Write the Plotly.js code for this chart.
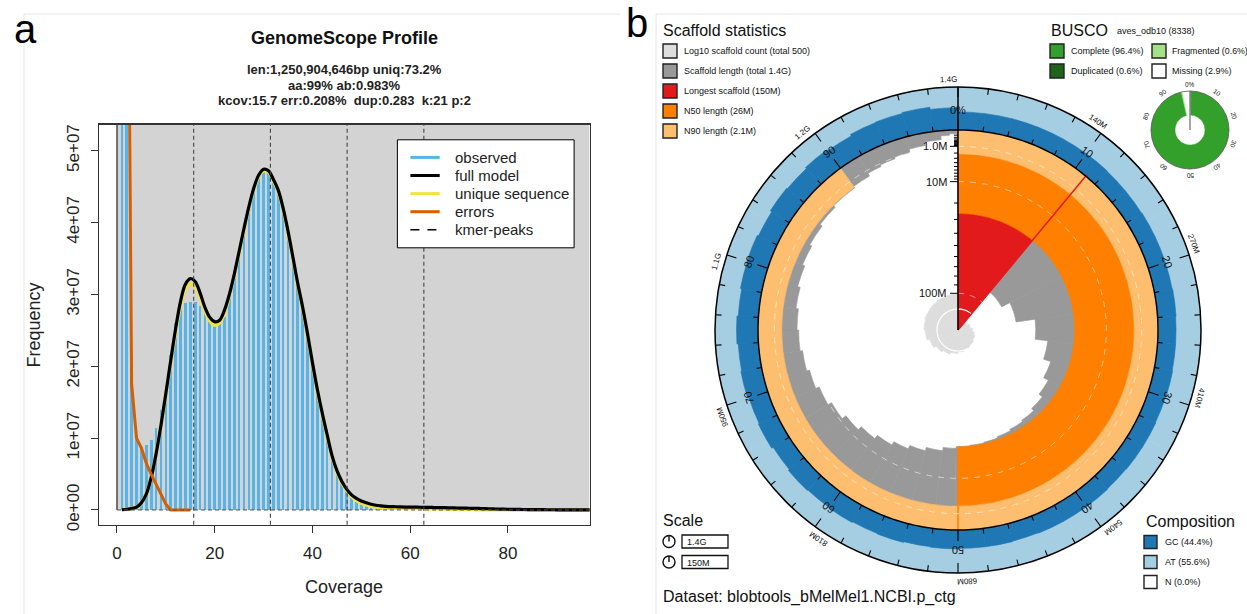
<!DOCTYPE html>
<html><head><meta charset="utf-8">
<script src="https://cdn.plot.ly/plotly-3.0.1.min.js"></script>
<style>html,body{margin:0;padding:0;background:#fff}#chart{width:1247px;height:614px}</style>
</head><body><div id="chart"></div>
<script>
const W = 1247, H = 614;
const FONT = 'Liberation Sans, Arial, sans-serif';

// ================= Panel a: GenomeScope profile =================
const coverage = Array.from({length: 97}, (_, i) => i + 1);
// values in units of 1e7
const observedE7 = [30,12,2.0,1.05,0.88,0.9,0.97,1.14,1.39,1.72,
  2.15,2.6,2.8,2.88,2.9,2.9,2.84,2.74,2.64,2.6,
  2.6,2.69,2.95,3.25,3.58,3.9,4.18,4.44,4.62,4.72,
  4.7,4.58,4.42,4.17,3.86,3.5,3.13,2.8,2.43,2.03,
  1.66,1.33,1.03,0.75,0.54,0.39,0.28,0.2,0.15,0.115,
  0.09,0.075,0.062,0.054,0.048,0.045,0.043,0.041,0.04,0.039,
  0.038,0.037,0.036,0.035,0.034,0.032,0.031,0.03,0.028,0.026,
  0.025,0.023,0.022,0.02,0.018,0.016,0.015,0.013,0.012,0.011,
  0.01,0.009,0.008,0.007,0.0065,0.006,0.0055,0.005,0.0045,0.004,
  0.0038,0.0035,0.0033,0.003,0.003,0.0028,0.0027];
const fullModelE7 = [0.005,0.01,0.02,0.04,0.1,0.22,0.45,0.78,1.18,1.62,
  2.08,2.52,2.9,3.14,3.22,3.18,3.02,2.82,2.68,2.62,
  2.64,2.78,3.0,3.28,3.6,3.92,4.22,4.48,4.66,4.74,
  4.72,4.6,4.45,4.2,3.88,3.52,3.15,2.82,2.45,2.05,
  1.68,1.35,1.05,0.76,0.55,0.4,0.29,0.21,0.16,0.125,
  0.1,0.08,0.066,0.057,0.051,0.047,0.045,0.043,0.041,0.04,
  0.039,0.038,0.037,0.036,0.034,0.033,0.032,0.03,0.028,0.027,
  0.025,0.024,0.023,0.021,0.019,0.017,0.015,0.013,0.011,0.01,
  0.009,0.008,0.007,0.006,0.005,0.0045,0.004,0.0035,0.003,0.0028,
  0.0025,0.0022,0.002,0.0018,0.0016,0.0015,0.0014];
const uniqueSeqE7 = [0.005,0.01,0.02,0.04,0.1,0.22,0.45,0.78,1.17,1.6,
  2.05,2.47,2.84,3.07,3.15,3.11,2.96,2.77,2.63,2.57,
  2.6,2.74,2.97,3.26,3.58,3.9,4.2,4.46,4.64,4.72,
  4.7,4.58,4.43,4.18,3.86,3.5,3.13,2.8,2.43,2.03,
  1.66,1.33,1.03,0.74,0.53,0.38,0.27,0.19,0.13,0.095,
  0.07,0.052,0.042,0.035,0.03,0.027,0.025,0.023,0.022,0.021,
  0.02,0.019,0.018,0.017,0.016,0.014,0.013,0.011,0.01,0.008,
  0.007,0.006,0.005,0.004,0.003,0.0025,0.002,0.0015,0.0015,0.0015,
  0.0012,0.0012,0.0012,0.001,0.001,0.001,0.001,0.001,0.001,0.001,
  0.001,0.001,0.001,0.001,0.001,0.001,0.001];
const errorsCoverage = [1,2,3,4,5,6,7,8,9,10,11,12,13,14,15];
const errorsE7 = [40,10.7,1.75,1.0,0.86,0.65,0.5,0.36,0.22,0.08,0,0,0,0,0];
const kmerPeaks = [15.7, 31.4, 47.1, 62.8];
const freqTicks = [0, 1e7, 2e7, 3e7, 4e7, 5e7];
const freqTickText = ['0e+00','1e+07','2e+07','3e+07','4e+07','5e+07'];
const covTicks = [0, 20, 40, 60, 80];
const gsTitle = 'GenomeScope Profile';
const gsStats = ['len:1,250,904,646bp uniq:73.2%', 'aa:99% ab:0.983%', 'kcov:15.7 err:0.208%&nbsp;&nbsp;dup:0.283&nbsp;&nbsp;k:21 p:2'];
const gsLegendNames = ['observed', 'full model', 'unique sequence', 'errors', 'kmer-peaks'];
const gsLegendColors = ['#56B4E9', '#000000', '#F0E442', '#D55E00', '#000000'];

const E7 = v => v * 1e7;
const xRange = [-3.72, 96.72];
const yRange = [-0.2062e7, 5.362e7];
const axDomX = [98.8 / W, 589.6 / W];
const axDomY = [1 - 524.8 / H, 1 - 124.6 / H];

// ================= Panel b: snail plot =================
const totalM = 1360;          // assembly span (1.4G)
const longestM = 150, n50M = 26, n90M = 2.1;
const scaffoldTopM = [150, 85, 75, 56, 45, 39, 35, 32, 30, 29, 28, 27, 26.5, 26];
const tailStartPct = [50.26,52.0,54.2,56.3,58.3,60.4,62.5,64.6,66.7,68.8,70.8,72.9,75,77.1,79.2,81.3,83.3,85.4,87.5,90,91.7,93,94.4,95.8,97.2,98.6,99.3];
const tailLenM = [25,23,21,19,17,15,13,11,9.4,8,7,6.2,5.7,5,4.3,3.7,3.15,2.6,2.2,1.9,1.4,1.15,0.96,0.6,0.3,0.1,0.05];
// log10 scaffold count spiral
const countPct = [0,5,11,17,23,27,30,35,40,45,50,55,60,65,70,75,80,85,90,95,100];
const log10Count = [0,0,0.3,0.48,0.6,0.7,0.78,0.85,0.92,0.98,1.05,1.12,1.2,1.3,1.42,1.55,1.62,1.66,1.68,1.7,1.72];
// GC composition (fraction of the ring) in 2% bins
const gcBinPct = Array.from({length: 50}, (_, i) => i * 2);
const gcFrac = [0.42,0.42,0.42,0.42,0.42,0.42,0.41,0.41,0.42,0.42,0.42,0.43,0.42,0.42,0.43,0.42,0.43,0.43,0.42,0.43,0.43,0.43,0.42,0.43,0.43,
  0.44,0.43,0.45,0.44,0.46,0.45,0.47,0.44,0.48,0.46,0.49,0.47,0.5,0.47,0.5,0.51,0.48,0.52,0.5,0.53,0.5,0.54,0.55,0.57,0.52];
const pctTickLabels = ['0%','10','20','30','40','50','60','70','80','90'];
const lenTickLabels = ['1.4G','140M','270M','410M','540M','680M','810M','950M','1.1G','1.2G'];
const radialTickM = [1, 10, 100];
const radialTickText = ['1.0M', '10M', '100M'];
const radialMinorM = [0.1,0.2,0.3,0.4,0.5,0.6,0.7,0.8,0.9,2,3,4,5,6,7,8,9,20,30,40,50,60,70,80,90];
// BUSCO
const buscoPct = [0.6, 95.8, 0.6, 2.9];   // duplicated, single complete, fragmented, missing
const buscoColors = ['#20641c', '#33a02c', '#a3e28b', '#ffffff'];
const buscoTickLabels = ['0%','10','20','30','40','50','60','70','80','90'];

// geometry (pixels) of the snail plot
const CX = 958, CY = 330, R_IN = 200, R_OUT = 243;
const rOfLen = L => R_IN * (1 - Math.sqrt(L / longestM));
const SPIRAL_K = 21;
const BCX = 1190, BCY = 130, BR = 39, BHOLE = 15;

const px = x => x / W, py = y => 1 - y / H;
function polarPaper(cx, cy, r, deg) {
  const t = deg * Math.PI / 180;
  return {x: px(cx + r * Math.sin(t)), y: py(cy - r * Math.cos(t))};
}

const traces = [];
// ---- panel a traces ----
traces.push({type:'bar', x: coverage, y: observedE7.map(E7), width: 0.55,
  marker:{color:'#56B4E9', line:{width:0}}, hoverinfo:'skip', xaxis:'x', yaxis:'y'});
traces.push({type:'scatter', mode:'lines', x: coverage, y: uniqueSeqE7.map(E7), line:{color:'#F0E442', width:3.5, shape:'spline'},
  name:'unique sequence', xaxis:'x', yaxis:'y', hoverinfo:'skip'});
traces.push({type:'scatter', mode:'lines', x: coverage, y: fullModelE7.map(E7), line:{color:'#000', width:3.2, shape:'spline'},
  name:'full model', xaxis:'x', yaxis:'y', hoverinfo:'skip'});
traces.push({type:'scatter', mode:'lines', x: errorsCoverage, y: errorsE7.map(E7), line:{color:'#D55E00', width:3},
  name:'errors', xaxis:'x', yaxis:'y', hoverinfo:'skip'});

// ---- panel b traces ----
function bp(theta, width, base, r, color, subplot) {
  return {type:'barpolar', theta, width, base, r, subplot: subplot || 'polar',
    marker:{color, line:{color, width:0.6}}, hoverinfo:'skip'};
}
function arcBins(p0, p1, maxDeg) {
  const a0 = p0 * 3.6, a1 = p1 * 3.6, n = Math.max(1, Math.ceil((a1 - a0) / maxDeg));
  const th = [], wd = [];
  for (let i = 0; i < n; i++) { const s = a0 + (a1 - a0) * i / n, e = a0 + (a1 - a0) * (i + 1) / n; th.push((s + e) / 2); wd.push(e - s); }
  return {th, wd};
}
// composition ring (AT background, GC)
{
  const a = arcBins(0, 100, 30);
  traces.push(bp(a.th, a.wd, a.th.map(() => R_IN), a.th.map(() => R_OUT - R_IN), '#a6cee3'));
  const th = gcBinPct.map(p => (p + 1) * 3.6), wd = gcBinPct.map(() => 7.2);
  traces.push(bp(th, wd, th.map(() => R_IN), gcFrac.map(f => f * (R_OUT - R_IN)), '#1f78b4'));
}
// log10 count spiral
{
  const th = [], wd = [], r = [];
  for (let i = 0; i < countPct.length - 1; i++) {
    th.push((countPct[i] + countPct[i + 1]) / 2 * 3.6); wd.push((countPct[i + 1] - countPct[i]) * 3.6);
    r.push(SPIRAL_K * log10Count[i + 1]);
  }
  traces.push(bp(th, wd, th.map(() => 0), r, '#dddddd'));
  const cth = Array.from({length: 181}, (_, i) => i * 2);
  traces.push({type:'scatterpolar', mode:'lines', subplot:'polar', theta: cth, r: cth.map(() => SPIRAL_K * 1),
    line:{color:'#fff', width:1.2}, hoverinfo:'skip'});
}
// scaffold length distribution
{
  const bins = []; let cum = 0;
  scaffoldTopM.forEach(L => { const p0 = cum / totalM * 100; cum += L; bins.push({p0, p1: cum / totalM * 100, L}); });
  tailStartPct.forEach((p, i) => bins.push({p0: p, p1: i < tailStartPct.length - 1 ? tailStartPct[i + 1] : 100, L: tailLenM[i]}));
  const th = bins.map(b => (b.p0 + b.p1) / 2 * 3.6), wd = bins.map(b => (b.p1 - b.p0) * 3.6);
  const base = bins.map(b => rOfLen(b.L));
  traces.push(bp(th, wd, base, base.map(v => R_IN - v), '#999999'));
}
// longest, N50, N90
{
  const lp = longestM / totalM * 100;
  const a = arcBins(0, lp, 60);
  traces.push(bp(a.th, a.wd, a.th.map(() => 0), a.th.map(() => R_IN), '#e31a1c'));
  const b = arcBins(0, 50, 60);
  traces.push(bp(b.th, b.wd, b.th.map(() => rOfLen(n50M)), b.th.map(() => R_IN - rOfLen(n50M)), '#ff7f00'));
  const c = arcBins(0, 90, 60);
  traces.push(bp(c.th, c.wd, c.th.map(() => rOfLen(n90M)), c.th.map(() => R_IN - rOfLen(n90M)), '#fdbf6f'));
  traces.push({type:'scatterpolar', mode:'lines', subplot:'polar', theta:[lp * 3.6, lp * 3.6], r:[0, R_IN + 2],
    line:{color:'#e31a1c', width:1.5}, hoverinfo:'skip'});
  traces.push({type:'scatterpolar', mode:'lines', subplot:'polar', theta:[180, 180], r:[rOfLen(n50M), R_IN],
    line:{color:'#ff7f00', width:1.5}, hoverinfo:'skip'});
}
// dashed grid circles for radial ticks
radialTickM.forEach(L => {
  const cth = Array.from({length: 361}, (_, i) => i);
  traces.push({type:'scatterpolar', mode:'lines', subplot:'polar', theta: cth, r: cth.map(() => rOfLen(L)),
    line:{color:'rgba(255,255,255,0.55)', width:1, dash:'6px,6px'}, hoverinfo:'skip'});
});
// inner black circle
{
  const cth = Array.from({length: 361}, (_, i) => i);
  traces.push({type:'scatterpolar', mode:'lines', subplot:'polar', theta: cth, r: cth.map(() => R_IN),
    line:{color:'#000', width:1.5}, hoverinfo:'skip'});
}
// ticks: percent (inner circle, outward) and length (outer circle, inward)
{
  const rr = [], tt = [];
  for (let p = 0; p < 100; p += 2) {
    const major = p % 10 === 0;
    rr.push(R_IN, R_IN + (major ? 11 : 5), null); tt.push(p * 3.6, p * 3.6, null);
    rr.push(R_OUT + (major ? 4 : 0), R_OUT - (major ? 10 : 6), null); tt.push(p * 3.6, p * 3.6, null);
  }
  traces.push({type:'scatterpolar', mode:'lines', subplot:'polar', theta: tt, r: rr,
    line:{color:'#000', width:1.1}, hoverinfo:'skip', connectgaps:false});
  traces.push({type:'scatterpolar', mode:'lines', subplot:'polar', theta:[0, 0], r:[0, R_OUT],
    line:{color:'#000', width:1.5}, hoverinfo:'skip'});
  const r2 = [], t2 = [];
  const addTick = (L, len) => { const r = rOfLen(L); r2.push(r, Math.hypot(r, len), null); t2.push(0, -Math.atan2(len, r) * 180 / Math.PI, null); };
  radialTickM.forEach(L => addTick(L, 8));
  radialMinorM.forEach(L => addTick(L, 4));
  traces.push({type:'scatterpolar', mode:'lines', subplot:'polar', theta: t2, r: r2,
    line:{color:'#000', width:1}, hoverinfo:'skip', connectgaps:false});
}
// BUSCO donut
{
  let cum = 0; const th = [], wd = [];
  buscoPct.forEach(p => { th.push((cum + p / 2) * 3.6); wd.push(p * 3.6); cum += p; });
  traces.push({type:'barpolar', subplot:'polar2', theta: th, width: wd, base: th.map(() => BHOLE), r: th.map(() => BR - BHOLE),
    marker:{color: buscoColors, line:{color: buscoColors, width:0.5}}, hoverinfo:'skip'});
  const rr = [], tt = [];
  for (let p = 0; p < 100; p += 10) { rr.push(BR, BR + 2.5, null); tt.push(p * 3.6, p * 3.6, null); }
  traces.push({type:'scatterpolar', mode:'lines', subplot:'polar2', theta: tt, r: rr, line:{color:'#555', width:0.8},
    hoverinfo:'skip', connectgaps:false});
  traces.push({type:'scatterpolar', mode:'lines', subplot:'polar2', theta:[0, 0], r:[0, BR], line:{color:'#888', width:1.5},
    hoverinfo:'skip'});
}

// ---------------- layout: shapes & annotations ----------------
const shapes = [];
const annotations = [];
function label(text, x, y, size, anchor, extra) {
  annotations.push(Object.assign({text, xref:'paper', yref:'paper', x:px(x), y:py(y), xanchor:anchor || 'left', yanchor:'middle', showarrow:false,
    font:{family:FONT, size: size || 10, color:'#111'}}, extra || {}));
}
// panel frames
shapes.push({type:'line', xref:'paper', yref:'paper', x0:px(24), x1:px(620), y0:py(14), y1:py(14), line:{color:'#e6e6e6', width:1}});
shapes.push({type:'line', xref:'paper', yref:'paper', x0:px(24), x1:px(24), y0:py(14), y1:0, line:{color:'#e6e6e6', width:1}});
shapes.push({type:'line', xref:'paper', yref:'paper', x0:px(656), x1:1, y0:py(14), y1:py(14), line:{color:'#e6e6e6', width:1}});
shapes.push({type:'line', xref:'paper', yref:'paper', x0:px(656), x1:px(656), y0:py(14), y1:0, line:{color:'#e6e6e6', width:1}});
// panel a background + peaks
shapes.push({type:'rect', xref:'x', yref:'y', x0:0, x1:xRange[1], y0:0, y1:yRange[1], fillcolor:'#d3d3d3', line:{width:0}, layer:'below'});
shapes.push({type:'line', xref:'x', yref:'y', x0:0, x1:0, y0:0, y1:yRange[1], line:{color:'#222', width:1.2}, layer:'below'});
shapes.push({type:'line', xref:'x', yref:'y', x0:0, x1:xRange[1], y0:0, y1:0, line:{color:'#555', width:1, dash:'4px,3px'}});
kmerPeaks.forEach(k => shapes.push({type:'line', xref:'x', yref:'y domain', x0:k, x1:k, y0:0, y1:1, line:{color:'#444', width:1.1, dash:'4px,3px'}}));
// panel a legend (box, samples, names)
shapes.push({type:'rect', xref:'paper', yref:'paper', x0:px(397.4), x1:px(574.1), y0:py(247.8), y1:py(139.8), fillcolor:'#fff', line:{color:'#000', width:1}});
gsLegendNames.forEach((n, i) => {
  const y = 157.4 + 18.1 * i;
  const dashed = n === 'kmer-peaks';
  shapes.push({type:'line', xref:'paper', yref:'paper', x0:px(410.4), x1:px(439.7), y0:py(y), y1:py(y),
    line:{color:gsLegendColors[i], width: dashed ? 1.6 : 3, dash: dashed ? '9px,8px' : 'solid'}});
  label(n, 452.7, y, 15, 'left', {font:{family:FONT, size:15, color:'#222'}});
});

// panel labels
label('a', 25, 29, 40, 'center', {font:{family:FONT, size:40, color:'#000'}});
label('b', 637, 23, 40, 'center', {font:{family:FONT, size:40, color:'#000'}});
// GenomeScope titles
label('<b>' + gsTitle + '</b>', 344, 37.5, 18, 'center', {font:{family:FONT, size:18, color:'#111'}});
gsStats.forEach((t, i) => label('<b>' + t + '</b>', 344, 69.7 + 15.5 * i, 13, 'center', {font:{family:FONT, size:13, color:'#222'}}));
label('Coverage', 344, 587, 18, 'center', {font:{family:FONT, size:18, color:'#222'}});
label('Frequency', 33.6, 325, 18, 'center', {textangle:-90, font:{family:FONT, size:18, color:'#222'}});

// Snail legends
function swatch(x, y, color, size) {
  const s = size || 14;
  shapes.push({type:'rect', xref:'paper', yref:'paper', x0:px(x), x1:px(x + s), y0:py(y + s / 2), y1:py(y - s / 2), fillcolor:color, line:{color:'#222', width:1.4}});
}
label('Scaffold statistics', 661, 30, 16);
const scafLegend = [['Log10 scaffold count (total 500)', '#dddddd'], ['Scaffold length (total 1.4G)', '#999999'],
  ['Longest scaffold (150M)', '#e31a1c'], ['N50 length (26M)', '#ff7f00'], ['N90 length (2.1M)', '#fdbf6f']];
scafLegend.forEach((d, i) => { swatch(663, 51 + 20 * i, d[1]); label(d[0], 682, 51 + 20 * i, 9); });
label('BUSCO', 1049, 30, 16);
label('aves_odb10 (8338)', 1115, 31, 9);
swatch(1050, 51, '#33a02c'); label('Complete (96.4%)', 1069, 51, 9);
swatch(1152, 51, '#a3e28b'); label('Fragmented (0.6%)', 1170, 51, 8.8);
swatch(1050, 71, '#20641c'); label('Duplicated (0.6%)', 1069, 71, 9);
swatch(1152, 71, '#ffffff'); label('Missing (2.9%)', 1170, 71, 9);
label('Composition', 1144, 521, 16);
[['GC (44.4%)', '#1f78b4'], ['AT (55.6%)', '#a6cee3'], ['N (0.0%)', '#ffffff']].forEach((d, i) => {
  swatch(1144, 542 + 20 * i, d[1], 13); label(d[0], 1163, 542 + 20 * i, 9);
});
label('Scale', 661, 520, 16);
['1.4G', '150M'].forEach((t, i) => {
  const y = 541.5 + 20.5 * i;
  shapes.push({type:'circle', xref:'paper', yref:'paper', x0:px(663), x1:px(675), y0:py(y + 6), y1:py(y - 6), line:{color:'#111', width:1.4}});
  shapes.push({type:'line', xref:'paper', yref:'paper', x0:px(669), x1:px(669), y0:py(y), y1:py(y - 6), line:{color:'#111', width:1.4}});
  shapes.push({type:'rect', xref:'paper', yref:'paper', x0:px(682), x1:px(728), y0:py(y + 6.5), y1:py(y - 6.5), line:{color:'#111', width:1.3}});
  label(t, 685, y + 0.5, 9);
});
label('Dataset: blobtools_bMelMel1.NCBI.p_ctg', 661, 597, 16);

// snail ring labels
pctTickLabels.forEach((t, i) => {
  const p = polarPaper(CX, CY, 220, i * 36);
  annotations.push({text:t, xref:'paper', yref:'paper', x:p.x, y:p.y, xanchor:'center', yanchor:'middle', textangle:i * 36,
    showarrow:false, font:{family:FONT, size:11, color:'#111'}});
});
lenTickLabels.forEach((t, i) => {
  const hw = t.length * 4.3 / 2 + 1;
  const ang = i * 36 - hw / 252 * 180 / Math.PI;
  const p = polarPaper(CX, CY, 251, ang);
  annotations.push({text:t, xref:'paper', yref:'paper', x:p.x, y:p.y, xanchor:'center', yanchor:'middle', textangle:ang,
    showarrow:false, font:{family:FONT, size:8, color:'#111'}});
});
radialTickM.forEach((L, i) => {
  annotations.push({text:radialTickText[i], xref:'paper', yref:'paper', x:px(CX - 9), y:py(CY - rOfLen(L)), xanchor:'right', yanchor:'middle',
    showarrow:false, font:{family:FONT, size:11, color:'#111'}});
});
buscoTickLabels.forEach((t, i) => {
  const p = polarPaper(BCX, BCY, BR + 7, i * 36);
  annotations.push({text:t, xref:'paper', yref:'paper', x:p.x, y:p.y, xanchor:'center', yanchor:'middle', textangle:i * 36,
    showarrow:false, font:{family:FONT, size:6.5, color:'#222'}});
});

const layout = {
  width: W, height: H, margin:{l:0, r:0, t:0, b:0}, paper_bgcolor:'#fff', plot_bgcolor:'#fff',
  font:{family:FONT}, showlegend:false, bargap:0,
  xaxis:{domain:axDomX, range:xRange, tickvals:covTicks, ticks:'outside', ticklen:7, tickcolor:'#333', tickwidth:1,
    showline:true, mirror:true, linecolor:'#333', linewidth:1.2, showgrid:false, zeroline:false,
    tickfont:{family:FONT, size:17, color:'#222'}, ticklabelstandoff:6},
  yaxis:{domain:axDomY, range:yRange, tickvals:freqTicks, ticktext:freqTickText, tickangle:-90, ticks:'outside', ticklen:7,
    tickcolor:'#333', showline:true, mirror:true, linecolor:'#333', linewidth:1.2, showgrid:false, zeroline:false,
    tickfont:{family:FONT, size:17, color:'#222'}, ticklabelstandoff:5},
  polar:{domain:{x:[px(CX - R_OUT), px(CX + R_OUT)], y:[py(CY + R_OUT), py(CY - R_OUT)]}, bgcolor:'rgba(0,0,0,0)',
    radialaxis:{range:[0, R_OUT], visible:false, showgrid:false},
    angularaxis:{rotation:90, direction:'clockwise', showline:true, linecolor:'#000', linewidth:1.5, ticks:'', showticklabels:false, showgrid:false},
    barmode:'overlay'},
  polar2:{domain:{x:[px(BCX - BR), px(BCX + BR)], y:[py(BCY + BR), py(BCY - BR)]}, bgcolor:'rgba(0,0,0,0)',
    radialaxis:{range:[0, BR], visible:false, showgrid:false},
    angularaxis:{rotation:90, direction:'clockwise', showline:true, linecolor:'#555', linewidth:0.8, ticks:'', showticklabels:false, showgrid:false},
    barmode:'overlay'},
  shapes, annotations
};
Plotly.newPlot('chart', traces, layout, {staticPlot:true, displayModeBar:false});
</script></body></html>
